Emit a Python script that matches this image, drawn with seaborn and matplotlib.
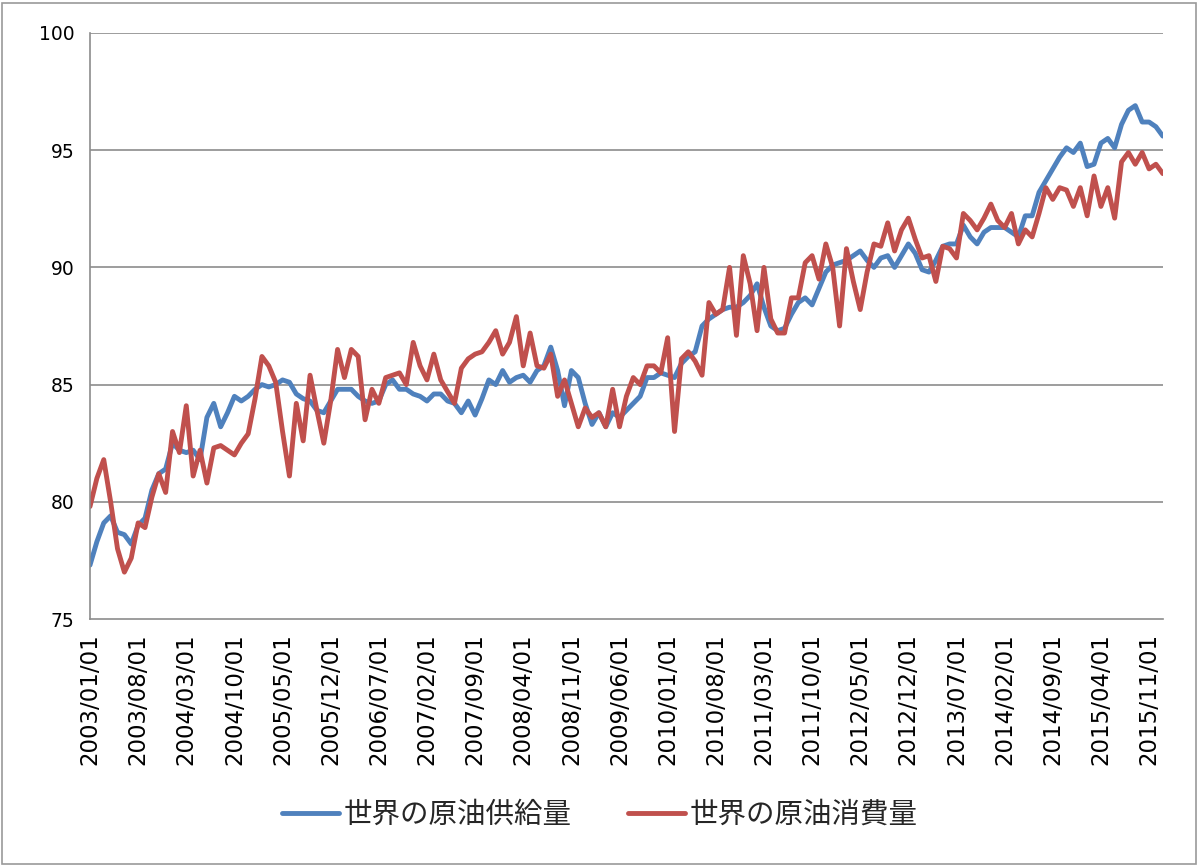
import numpy as np
import pandas as pd
import matplotlib
matplotlib.use("Agg")
import matplotlib.pyplot as plt
import seaborn as sns
from matplotlib.patches import Rectangle

# monthly, 2003/01 .. 2016/01 (million barrels per day)
months = pd.date_range("2003-01-01", periods=157, freq="MS")

supply = [
    77.3, 78.3, 79.1, 79.4, 78.7, 78.6, 78.2, 79.0, 79.3, 80.5, 81.2, 81.4,
    82.5, 82.2, 82.1, 82.2, 81.8, 83.6, 84.2, 83.2, 83.8, 84.5, 84.3, 84.5,
    84.8, 85.0, 84.9, 85.0, 85.2, 85.1, 84.6, 84.4, 84.3, 83.9, 83.8, 84.3,
    84.8, 84.8, 84.8, 84.5, 84.3, 84.2, 84.3, 85.0, 85.2, 84.8, 84.8, 84.6,
    84.5, 84.3, 84.6, 84.6, 84.3, 84.2, 83.8, 84.3, 83.7, 84.4, 85.2, 85.0,
    85.6, 85.1, 85.3, 85.4, 85.1, 85.6, 85.8, 86.6, 85.6, 84.1, 85.6, 85.3,
    84.2, 83.3, 83.8, 83.2, 83.8, 83.6, 83.9, 84.2, 84.5, 85.3, 85.3, 85.5,
    85.4, 85.3, 85.9, 86.2, 86.4, 87.5, 87.8, 88.0, 88.2, 88.3, 88.3, 88.5,
    88.8, 89.3, 88.3, 87.5, 87.3, 87.4, 88.0, 88.5, 88.7, 88.4, 89.1, 89.8,
    90.1, 90.2, 90.3, 90.5, 90.7, 90.3, 90.0, 90.4, 90.5, 90.0, 90.5, 91.0,
    90.6, 89.9, 89.8, 90.3, 90.9, 91.0, 91.0, 91.8, 91.3, 91.0, 91.5, 91.7,
    91.7, 91.7, 91.5, 91.3, 92.2, 92.2, 93.2, 93.7, 94.2, 94.7, 95.1, 94.9,
    95.3, 94.3, 94.4, 95.3, 95.5, 95.1, 96.1, 96.7, 96.9, 96.2, 96.2, 96.0,
    95.6,
]

consumption = [
    79.8, 81.0, 81.8, 80.0, 78.0, 77.0, 77.6, 79.1, 78.9, 80.2, 81.2, 80.4,
    83.0, 82.1, 84.1, 81.1, 82.2, 80.8, 82.3, 82.4, 82.2, 82.0, 82.5, 82.9,
    84.4, 86.2, 85.8, 85.1, 83.0, 81.1, 84.2, 82.6, 85.4, 83.9, 82.5, 84.3,
    86.5, 85.3, 86.5, 86.2, 83.5, 84.8, 84.2, 85.3, 85.4, 85.5, 85.0, 86.8,
    85.8, 85.2, 86.3, 85.2, 84.7, 84.2, 85.7, 86.1, 86.3, 86.4, 86.8, 87.3,
    86.3, 86.8, 87.9, 85.8, 87.2, 85.8, 85.7, 86.3, 84.5, 85.2, 84.2, 83.2,
    84.0, 83.6, 83.8, 83.2, 84.8, 83.2, 84.5, 85.3, 85.0, 85.8, 85.8, 85.5,
    87.0, 83.0, 86.1, 86.4, 86.0, 85.4, 88.5, 88.0, 88.2, 90.0, 87.1, 90.5,
    89.3, 87.3, 90.0, 87.8, 87.2, 87.2, 88.7, 88.7, 90.2, 90.5, 89.5, 91.0,
    90.0, 87.5, 90.8, 89.4, 88.2, 89.8, 91.0, 90.9, 91.9, 90.7, 91.6, 92.1,
    91.2, 90.4, 90.5, 89.4, 90.9, 90.8, 90.4, 92.3, 92.0, 91.6, 92.1, 92.7,
    92.0, 91.7, 92.3, 91.0, 91.6, 91.3, 92.3, 93.4, 92.9, 93.4, 93.3, 92.6,
    93.4, 92.2, 93.9, 92.6, 93.4, 92.1, 94.5, 94.9, 94.4, 94.9, 94.2, 94.4,
    94.0,
]

series_names = ["世界の原油供給量", "世界の原油消費量"]
colors = ["#4F81BD", "#C0504D"]

x_tick_labels = [
    "2003/01/01", "2003/08/01", "2004/03/01", "2004/10/01", "2005/05/01",
    "2005/12/01", "2006/07/01", "2007/02/01", "2007/09/01", "2008/04/01",
    "2008/11/01", "2009/06/01", "2010/01/01", "2010/08/01", "2011/03/01",
    "2011/10/01", "2012/05/01", "2012/12/01", "2013/07/01", "2014/02/01",
    "2014/09/01", "2015/04/01", "2015/11/01",
]
y_ticks = [75, 80, 85, 90, 95, 100]

idx = np.arange(len(months))
df = pd.concat([
    pd.DataFrame({"idx": idx, "value": supply, "series": series_names[0]}),
    pd.DataFrame({"idx": idx, "value": consumption, "series": series_names[1]}),
])

sns.set_style("white")
plt.rcParams["font.family"] = ["DejaVu Sans", "Noto Sans CJK JP"]

grid_c = "#8C8C8C"
fig = plt.figure(figsize=(12, 8.67), dpi=100)
ax = fig.add_axes([0.075, 0.286, 0.894, 0.676])

sns.lineplot(data=df, x="idx", y="value", hue="series", palette=colors,
             linewidth=3.5, ax=ax, legend=False)

ax.set_xlim(0, len(months) - 1)
ax.set_ylim(75, 100)
ax.set_yticks(y_ticks)
ax.set_yticklabels([str(v) for v in y_ticks], fontsize=13.5)
tick_pos = [months.get_loc(pd.Timestamp(s.replace("/", "-"))) for s in x_tick_labels]
ax.set_xticks(tick_pos)
ax.set_xticklabels(x_tick_labels, rotation=90, fontsize=16.5)
ax.set_xlabel("")
ax.set_ylabel("")

for v in y_ticks[1:]:
    ax.axhline(v, color=grid_c, lw=1.2, zorder=0)
for s in ["top", "right"]:
    ax.spines[s].set_visible(False)
for s in ["left", "bottom"]:
    ax.spines[s].set_color(grid_c)
    ax.spines[s].set_linewidth(1.2)
ax.tick_params(axis="both", direction="out", length=5, width=1.2, color=grid_c,
               labelcolor="black", pad=6)
ax.tick_params(axis="x", pad=5)

handles = [plt.Line2D([], [], color=c, lw=3.5) for c in colors]
fig.legend(handles, series_names, loc="center", bbox_to_anchor=(0.5, 0.06),
           ncol=2, frameon=False, handlelength=2.0, handletextpad=0.15,
           columnspacing=2.0, prop={"family": ["Noto Sans CJK JP"], "size": 20.5})

fig.patches.append(Rectangle((0.002, 0.004), 0.995, 0.992, transform=fig.transFigure,
                             fill=False, edgecolor="#9A9A9A", lw=1.2))

fig.savefig("out.png", dpi=100)
